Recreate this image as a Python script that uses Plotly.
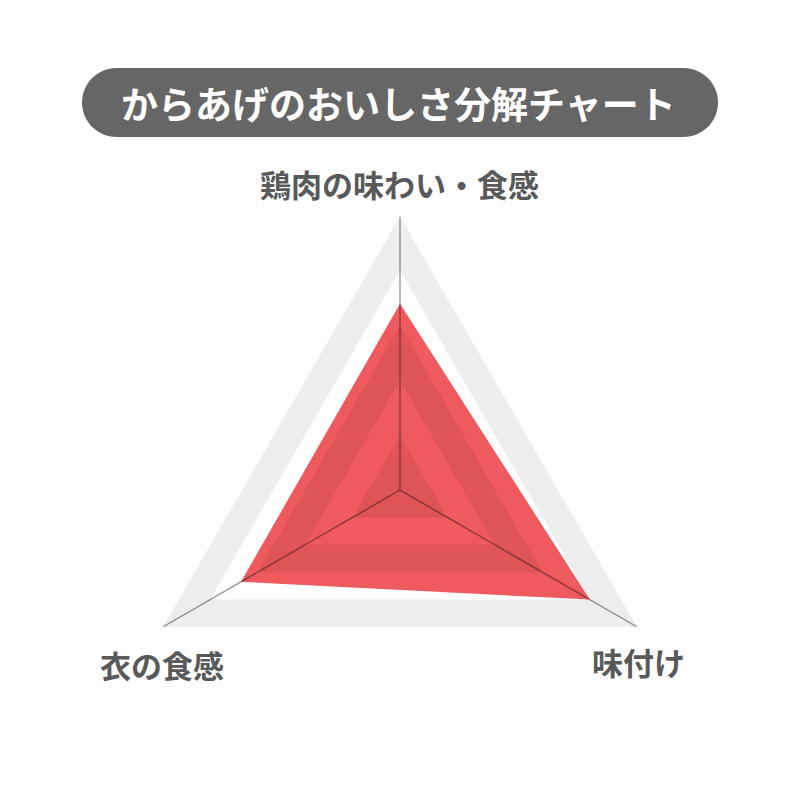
import plotly.graph_objects as go

# axis names, in drawing order (top, lower right, lower left)
categories = ["鶏肉の味わい・食感", "味付け", "衣の食感"]
scores = [3.4, 4.0, 3.35]
max_score = 5
grid_levels = [1, 2, 3, 4, 5]

title_text = "からあげのおいしさ分解チャート"

FONT = "Noto Sans CJK JP"
label_color = "#595959"
# the page body has an 8px margin, so pull everything back by that much
OFF = 8


def px_x(v):
    return (v - OFF) / 800


def px_y(v):
    return 1 - (v - OFF) / 800


fig = go.Figure()

# the red score polygon goes first, the grid is laid over it half transparent
fig.add_trace(go.Scatterpolar(
    r=scores + scores[:1],
    theta=categories + categories[:1],
    fill="toself",
    fillcolor="#EE5A5E",
    line=dict(color="#EE5A5E", width=0),
    mode="lines",
    hoverinfo="skip",
))

# shaded rings: 4-5, 2-3 and 0-1
for top in grid_levels[::-2]:
    inner = top - 1
    ring_r = [top] * 4 + [inner] * 4
    ring_theta = categories + categories[:1] + categories[:1] + categories[::-1]
    fig.add_trace(go.Scatterpolar(
        r=ring_r,
        theta=ring_theta,
        fill="toself",
        fillcolor="rgba(0,0,0,0.068)",
        line=dict(width=0, color="rgba(0,0,0,0)"),
        mode="lines",
        hoverinfo="skip",
    ))

# spokes from the centre to each corner
spoke_r = []
spoke_theta = []
for c in categories:
    spoke_r += [0, max_score]
    spoke_theta += [c, c]
fig.add_trace(go.Scatterpolar(
    r=spoke_r,
    theta=spoke_theta,
    mode="lines",
    line=dict(color="rgba(0,0,0,0.4)", width=1.4),
    hoverinfo="skip",
))

fig.update_layout(
    width=800, height=800,
    margin=dict(l=0, r=0, t=0, b=0),
    paper_bgcolor="white",
    showlegend=False,
    polar=dict(
        domain=dict(x=[px_x(126), px_x(674)], y=[px_y(764), px_y(216)]),
        bgcolor="rgba(0,0,0,0)",
        gridshape="linear",
        radialaxis=dict(visible=False, range=[0, max_score]),
        angularaxis=dict(rotation=90, direction="clockwise",
                         showgrid=False, showline=False,
                         showticklabels=False, ticks=""),
    ),
)

# rounded title pill
x0, x1 = px_x(82), px_x(718)
yt, yb = px_y(68), px_y(137)
rad = (yt - yb) / 2
ym = (yt + yb) / 2
k = 0.5523 * rad
pill = (
    f"M {x0 + rad},{yt} L {x1 - rad},{yt} "
    f"C {x1 - rad + k},{yt} {x1},{ym + k} {x1},{ym} "
    f"C {x1},{ym - k} {x1 - rad + k},{yb} {x1 - rad},{yb} "
    f"L {x0 + rad},{yb} "
    f"C {x0 + rad - k},{yb} {x0},{ym - k} {x0},{ym} "
    f"C {x0},{ym + k} {x0 + rad - k},{yt} {x0 + rad},{yt} Z"
)
fig.add_shape(type="path", path=pill, xref="paper", yref="paper",
              fillcolor="#666666", line=dict(width=0), layer="below")

fig.add_annotation(text=title_text, x=px_x(398), y=ym, xref="paper", yref="paper",
                   showarrow=False, xanchor="center", yanchor="middle",
                   font=dict(family=FONT, size=37, color="white", weight="bold"))

label_pos = [(399, 184), (638, 661), (162, 664)]
for name, (px, py) in zip(categories, label_pos):
    fig.add_annotation(text=name, x=px_x(px), y=px_y(py),
                       xref="paper", yref="paper", showarrow=False,
                       xanchor="center", yanchor="middle",
                       font=dict(family=FONT, size=31, color=label_color, weight="bold"))

fig.write_html("out.html")
